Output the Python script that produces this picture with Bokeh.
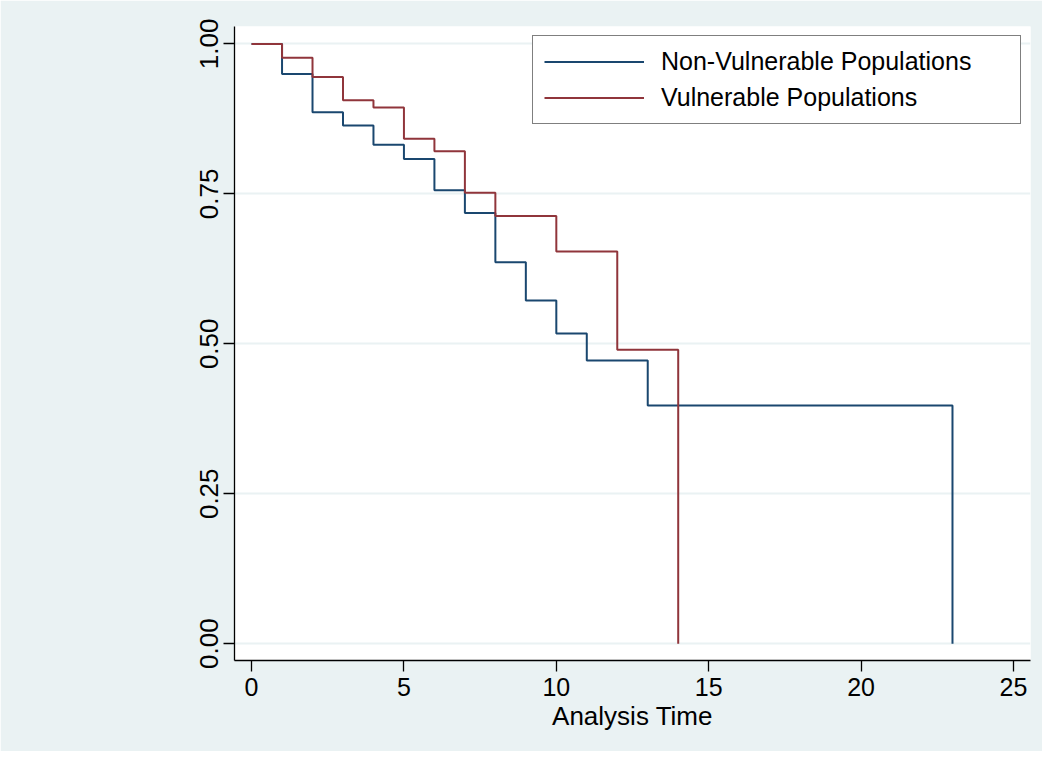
from bokeh.plotting import figure
from bokeh.models import Range1d, Legend, LegendItem, FixedTicker
from bokeh.embed import file_html
from bokeh.resources import INLINE

# Kaplan-Meier step data (time, survival)
nonvuln_time = [0, 1, 2, 3, 4, 5, 6, 7, 8, 9, 10, 11, 12, 13, 23]
nonvuln_surv = [1.00, 0.950, 0.886, 0.864, 0.832, 0.808, 0.756, 0.718, 0.636, 0.572, 0.517, 0.472, 0.472, 0.397, 0.0]

vuln_time = [0, 1, 2, 3, 4, 5, 6, 7, 8, 9, 10, 11, 12, 13, 14]
vuln_surv = [1.00, 0.977, 0.945, 0.906, 0.894, 0.842, 0.821, 0.752, 0.713, 0.713, 0.654, 0.654, 0.490, 0.490, 0.0]

x_ticks = [0, 5, 10, 15, 20, 25]
y_ticks = [0.0, 0.25, 0.5, 0.75, 1.0]
y_tick_labels = {0.0: "0.00", 0.25: "0.25", 0.5: "0.50", 0.75: "0.75", 1.0: "1.00"}

BG = "#EAF2F3"
BLUE = "#1A476F"
RED = "#90353B"
FONT = "Liberation Sans"

p = figure(width=1042, height=751, output_backend="svg", toolbar_location=None,
           x_range=Range1d(-0.56, 25.56), y_range=Range1d(-0.028, 1.029),
           min_border_left=234, min_border_right=12, min_border_top=26, min_border_bottom=91)

p.background_fill_color = "white"
p.border_fill_color = BG
p.outline_line_color = None

r1 = p.step(nonvuln_time, nonvuln_surv, mode="after", line_color=BLUE, line_width=2)
r2 = p.step(vuln_time, vuln_surv, mode="after", line_color=RED, line_width=2)

# grid
p.xgrid.grid_line_color = None
p.ygrid.grid_line_color = BG
p.ygrid.grid_line_width = 2
p.ygrid.ticker = FixedTicker(ticks=y_ticks)

# axes
p.xaxis.ticker = FixedTicker(ticks=x_ticks)
p.yaxis.ticker = FixedTicker(ticks=y_ticks)
p.yaxis.major_label_overrides = y_tick_labels
p.yaxis.major_label_orientation = "vertical"
for ax in (p.xaxis[0], p.yaxis[0]):
    ax.axis_line_color = "black"
    ax.axis_line_width = 1.3
    ax.major_tick_line_color = "black"
    ax.major_tick_line_width = 1.3
    ax.major_tick_out = 11
    ax.major_tick_in = 0
    ax.minor_tick_line_color = None
    ax.major_label_text_font = FONT
    ax.major_label_text_color = "black"
    ax.major_label_standoff = 6
p.xaxis.major_label_text_font_size = "25px"
p.yaxis.major_label_text_font_size = "26px"
p.yaxis.major_label_standoff = 5

p.xaxis.axis_label = "Analysis Time"
p.xaxis.axis_label_text_font = FONT
p.xaxis.axis_label_text_font_size = "26px"
p.xaxis.axis_label_text_font_style = "normal"
p.xaxis.axis_label_text_color = "black"
p.xaxis.axis_label_standoff = 2

legend = Legend(items=[LegendItem(label="Non-Vulnerable Populations", renderers=[r1]),
                       LegendItem(label="Vulnerable Populations", renderers=[r2])],
                location="top_right", margin=9, padding=11, spacing=7,
                glyph_width=100, glyph_height=29, label_height=29, label_width=348,
                label_standoff=17,
                label_text_font=FONT, label_text_font_size="25px", label_text_color="black",
                border_line_color="black", border_line_width=1.5,
                background_fill_color="white", background_fill_alpha=1.0)
p.add_layout(legend)

open("out.html", "w").write(file_html(p, INLINE))
